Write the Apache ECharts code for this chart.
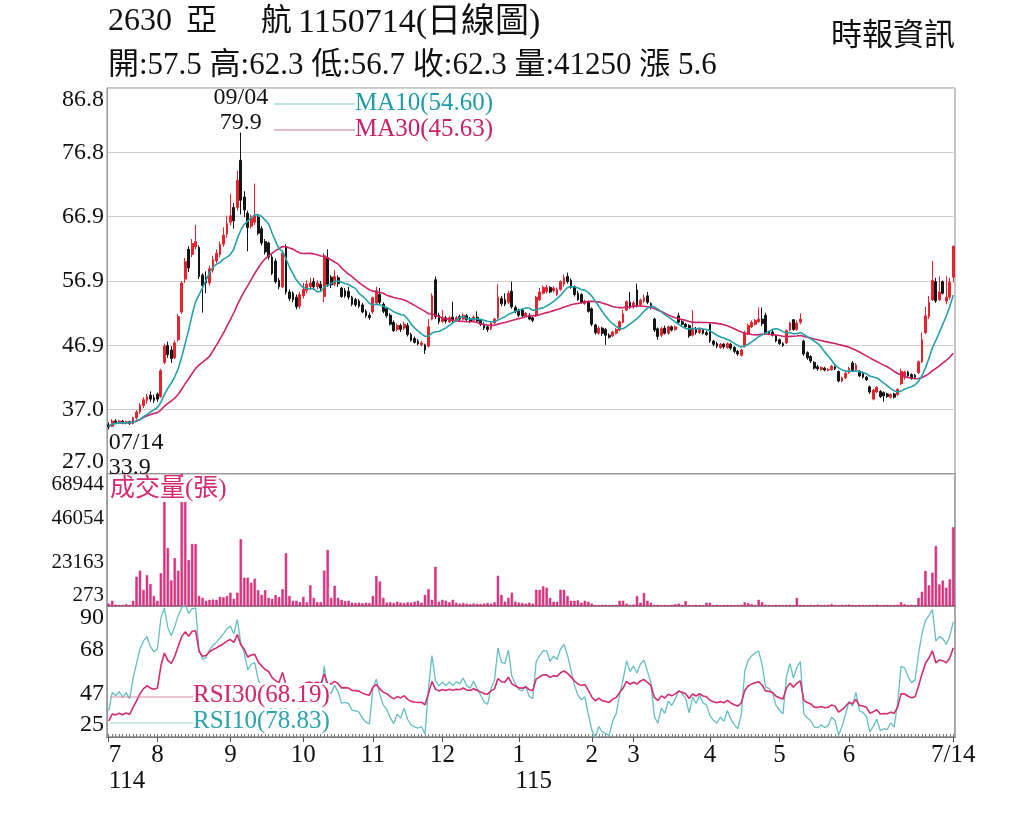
<!DOCTYPE html>
<html lang="zh-Hant">
<head>
<meta charset="UTF-8">
<title>2630 亞航 日線圖</title>
<script src="https://cdn.jsdelivr.net/npm/echarts@6/dist/echarts.min.js"></script>
<style>
  html, body { margin: 0; padding: 0; background: #fff; }
  #main { width: 1024px; height: 819px; }
</style>
</head>
<body>
<div id="main"></div>
<script>
// daily candles: [open, close, low, high], 114/07/14 .. 115/07/14
var kline = [
  [34.6,34.3,33.9,35.0],[34.4,35.2,34.3,35.5],[35.2,35.0,34.8,35.5],[35.0,35.2,34.8,35.4],[35.2,34.9,34.7,35.4],
  [34.9,35.1,34.7,35.3],[35.1,34.8,34.6,35.2],[34.8,35.7,34.7,35.9],[35.7,36.6,35.4,36.9],[36.6,37.7,36.3,38.0],
  [37.6,38.5,37.2,38.9],[38.4,39.0,37.9,39.4],[39.2,38.6,38.2,39.8],[38.8,38.4,38.0,39.3],[39.4,38.6,38.2,39.6],
  [39.0,43.0,38.8,43.3],[44.3,46.8,44.0,47.2],[46.9,45.5,45.0,47.5],[46.2,44.9,44.2,46.8],[45.0,47.3,44.8,47.7],
  [47.8,51.4,47.5,51.8],[52.1,56.6,51.8,56.9],[57.2,59.9,56.6,60.5],[61.8,58.9,58.3,62.3],[61.0,62.7,60.6,63.4],
  [62.2,63.0,61.8,65.6],[62.1,57.6,57.2,62.4],[57.8,56.2,52.0,58.1],[57.5,56.6,55.0,58.4],[56.6,58.8,56.2,59.3],
  [58.6,60.2,58.2,60.8],[60.0,61.2,59.6,61.8],[61.0,62.6,60.6,63.0],[62.6,64.0,62.2,65.2],[64.2,65.8,63.6,67.0],
  [66.0,67.0,65.5,70.4],[68.3,66.2,65.0,69.0],[68.3,72.5,67.8,74.0],[75.6,69.4,67.2,79.9],[69.9,67.9,66.8,70.8],
  [67.4,65.2,61.5,67.8],[65.4,66.6,65.0,67.2],[66.0,67.0,65.6,72.0],[66.8,64.3,64.0,67.2],[65.0,62.8,62.4,65.4],
  [63.0,61.4,61.0,63.4],[62.8,60.6,60.2,63.0],[60.6,58.1,57.8,61.0],[60.0,56.8,56.5,60.4],[57.0,56.0,55.6,57.4],
  [56.0,61.2,55.8,61.6],[62.2,55.2,54.8,62.6],[55.2,54.2,53.8,55.6],[55.0,54.0,53.6,55.3],[54.4,52.9,52.5,54.8],
  [53.0,54.8,52.6,55.2],[54.6,55.6,54.2,56.6],[55.4,56.4,55.0,57.0],[56.0,56.6,55.5,57.4],[56.8,56.0,55.5,57.4],
  [56.0,56.6,55.6,57.0],[56.4,55.8,55.4,56.9],[54.5,60.8,53.6,61.2],[60.5,56.4,56.0,61.8],[57.5,56.3,55.8,57.8],
  [56.4,57.6,56.1,58.6],[57.4,56.5,56.0,57.8],[55.8,54.5,54.3,56.0],[55.4,54.6,54.3,55.8],[55.3,54.4,54.0,56.0],
  [54.4,53.3,53.0,54.6],[54.0,53.2,52.9,54.3],[53.8,53.0,52.7,54.1],[53.2,52.1,51.9,53.5],[52.2,51.5,51.2,52.5],
  [51.6,51.2,50.9,52.0],[52.1,54.3,51.8,54.5],[53.5,55.4,53.3,56.0],[54.8,53.6,53.2,55.8],[53.3,52.2,51.9,53.6],
  [52.6,51.5,51.2,52.9],[51.6,50.2,50.0,51.9],[50.5,49.2,49.0,50.8],[49.4,50.0,49.1,50.3],[50.0,49.4,49.0,50.3],
  [49.6,50.2,49.3,50.6],[50.0,48.6,48.3,50.4],[48.6,47.7,47.5,48.9],[48.0,47.4,47.2,48.3],[47.6,47.2,46.9,47.9],
  [47.0,47.3,46.8,47.6],[47.0,46.2,45.6,47.2],[46.8,49.8,46.6,51.0],[51.0,54.6,50.8,55.0],[57.1,51.4,51.0,57.6],
  [51.6,50.6,50.2,52.0],[50.6,51.2,50.4,52.4],[51.2,50.7,50.3,51.5],[50.6,51.2,50.4,51.5],[51.3,50.8,50.4,53.7],
  [50.8,51.2,50.6,51.5],[51.4,51.0,50.7,51.7],[51.0,51.6,50.8,51.9],[51.5,50.9,50.6,51.8],[51.0,50.7,50.4,51.3],
  [50.8,51.3,50.6,51.6],[51.3,50.7,50.4,52.2],[50.8,50.2,49.9,51.0],[50.2,49.6,49.3,50.5],[49.8,49.4,49.0,50.0],
  [49.5,50.4,49.3,50.6],[50.4,51.0,50.2,51.2],[51.2,54.4,51.0,56.4],[54.2,53.4,53.0,54.6],[54.0,53.3,53.0,55.0],
  [53.6,55.0,53.3,55.4],[55.3,52.9,52.6,56.8],[52.8,52.2,51.9,53.1],[52.4,51.6,51.3,52.6],[52.4,51.5,51.2,52.7],
  [51.5,51.9,51.3,52.1],[51.6,51.0,50.8,51.9],[51.2,50.8,50.5,51.4],[51.6,54.4,51.3,54.6],[54.0,55.2,53.8,55.8],
  [55.0,55.9,54.8,56.2],[55.3,55.9,55.0,56.3],[55.9,55.2,55.0,56.1],[55.4,55.8,55.1,56.1],[54.8,55.6,54.6,55.9],
  [55.6,56.8,55.4,57.0],[56.4,57.4,56.0,57.9],[57.6,56.8,56.5,58.2],[57.0,55.9,55.7,57.3],[56.0,54.8,54.5,56.2],
  [55.0,54.0,53.8,55.4],[54.8,53.6,53.4,55.0],[53.4,53.8,53.2,54.0],[53.6,52.2,52.0,53.8],[52.6,50.2,49.9,52.8],
  [50.1,48.9,48.6,50.3],[48.8,49.6,48.6,49.9],[49.6,48.8,48.4,49.8],[49.4,48.5,47.0,49.6],[48.5,48.2,48.0,48.8],
  [48.4,49.0,48.2,49.2],[48.8,49.4,48.6,49.6],[49.3,50.6,49.1,50.8],[50.5,51.8,50.3,52.4],[52.4,53.7,52.2,53.9],
  [53.6,52.9,52.6,55.2],[52.9,53.5,52.6,53.8],[55.5,53.0,52.8,56.5],[53.2,53.9,52.9,54.2],[53.8,54.3,53.5,54.8],
  [54.6,53.6,53.3,55.2],[53.4,52.8,52.5,53.6],[51.0,49.3,49.0,51.2],[49.5,48.3,47.8,49.7],[48.5,49.5,48.2,49.8],
  [49.6,48.8,48.6,50.0],[48.8,49.8,48.6,50.0],[49.8,49.3,49.1,50.0],[49.4,49.8,49.2,50.0],[51.5,50.5,50.3,52.0],
  [50.6,50.2,49.9,50.9],[50.2,49.8,49.6,50.4],[50.0,48.4,48.1,50.2],[48.5,49.5,48.3,52.4],[49.5,48.9,48.6,49.8],
  [48.9,49.5,48.7,49.7],[49.4,48.8,48.6,49.6],[48.9,48.6,48.4,49.2],[50.2,47.6,47.3,50.5],[47.6,47.1,46.8,47.8],
  [47.2,46.8,46.5,47.5],[46.6,47.1,46.4,47.3],[47.1,46.7,46.4,47.3],[46.6,47.2,46.4,47.4],[47.1,46.5,46.2,47.3],
  [46.6,46.0,45.7,46.8],[46.0,45.6,45.3,46.2],[45.4,46.2,45.2,46.4],[46.8,48.9,46.6,49.2],[48.7,50.0,48.5,50.3],
  [49.8,50.5,49.6,50.8],[50.2,50.8,50.0,51.0],[50.6,51.0,50.4,52.8],[51.0,50.3,49.9,52.8],[51.6,48.9,48.7,52.0],
  [49.0,48.8,48.5,49.2],[49.0,48.5,48.3,49.3],[48.4,47.6,47.4,48.6],[47.8,47.2,47.0,48.0],[47.2,46.9,46.7,47.4],
  [47.3,49.2,47.1,49.4],[49.3,50.4,49.1,50.6],[50.9,49.4,49.2,51.0],[49.4,50.4,49.2,50.8],[50.5,51.0,50.2,51.9],
  [47.6,45.6,45.3,47.8],[45.8,45.0,44.7,46.0],[45.2,44.5,44.2,45.4],[44.3,43.4,43.2,44.5],[43.6,43.3,43.0,43.9],
  [43.2,43.5,43.0,43.7],[43.4,43.1,42.9,43.6],[43.1,43.2,42.9,43.4],[43.2,43.7,43.0,43.9],[43.6,43.3,43.1,43.8],
  [42.9,41.4,41.2,43.0],[41.4,41.9,41.2,42.1],[41.9,42.6,41.7,42.8],[42.7,43.4,42.5,43.6],[44.2,43.0,42.8,44.5],
  [43.1,43.9,42.9,44.2],[42.9,42.2,42.0,43.1],[42.6,42.0,41.8,42.8],[42.0,41.6,41.4,42.2],[40.5,39.7,39.4,40.7],
  [38.6,40.0,38.4,40.2],[39.7,40.4,39.5,40.6],[39.8,39.0,38.8,40.0],[39.6,39.1,38.2,39.8],[39.4,39.0,38.8,39.6],
  [38.9,39.3,38.7,39.5],[39.4,38.9,38.7,39.6],[39.3,40.1,39.1,40.3],[41.0,42.9,40.8,43.3],[42.0,42.8,41.6,43.0],
  [42.8,42.2,41.9,43.0],[42.4,41.8,41.6,42.6],[42.3,42.0,41.8,42.5],[42.7,44.4,42.5,44.6],[44.4,47.8,44.2,48.9],
  [48.9,51.5,48.7,52.9],[51.4,53.6,51.0,54.6],[54.0,57.0,53.8,60.0],[56.8,53.8,53.5,57.4],[54.0,55.2,53.8,57.6],
  [56.8,55.0,54.8,57.0],[53.8,54.4,53.3,57.6],[54.4,56.7,54.0,57.4],[57.5,62.3,56.7,62.3]
];

// daily volume (張)
var volume = [
  1500,3000,1000,800,900,1200,900,3000,15500,18600,
  8600,16300,11700,5500,3000,17300,58000,30400,13600,25200,
  18600,68944,62000,24200,32500,32500,5500,4500,3000,3500,
  3600,3500,5000,4800,5500,7200,4000,7200,35000,15000,
  15000,12400,14500,8500,6000,8500,4500,4000,6000,5000,
  9000,27700,5500,3000,3000,2300,5000,2300,11000,4500,
  2300,2300,18700,29400,4500,10800,4500,3500,2800,3000,
  2000,1800,2000,1700,2000,1800,5500,15900,13000,4500,
  2000,2200,1800,2500,2000,1800,2200,2000,2500,3000,
  2000,6000,9000,3500,20700,2500,3500,3000,2200,3500,
  2000,1500,1800,1500,1200,1600,1400,1300,1500,1800,
  1500,2200,16000,6000,2500,4500,7200,2500,2000,1800,
  1500,2000,1500,8700,8700,10500,9800,4500,2500,2500,
  8700,8700,5500,3000,3000,3200,2000,3000,2500,1500,
  800,700,800,900,700,800,900,3000,3000,1500,
  800,1000,5500,2000,7000,3000,2000,800,900,700,
  800,700,900,1200,1500,800,2800,800,700,900,
  800,700,2000,2000,800,900,700,800,900,800,
  700,800,900,2200,1800,1200,800,3500,2200,900,
  800,700,900,800,700,800,900,700,4500,900,
  800,700,900,800,1000,700,800,900,1200,800,
  700,900,800,1000,800,700,900,800,700,900,
  800,1000,700,800,900,700,800,900,2200,1200,
  800,900,700,4500,7700,18500,11000,17600,31500,11500,
  13500,9800,14200,41250
];

// RSI readings on the first day (carried over from before the window)
var rsiStart = { 10: 38, 30: 33 };

// month ticks on the date axis
var monthStart = [0, 14, 35, 56, 76, 96, 118, 139, 151, 173, 193, 213, 243];
var monthLabel = ['7', '8', '9', '10', '11', '12', '1', '2', '3', '4', '5', '6', '7/14'];
var yearLabel = { 0: '114', 118: '115' };

var days = kline.map(function (d, i) { return i; });

function calcMA(n) {
  return kline.map(function (d, i) {
    var s = 0, c = 0;
    for (var j = Math.max(0, i - n + 1); j <= i; j++) { s += kline[j][1]; c++; }
    return +(s / c).toFixed(2);
  });
}

// Wilder RSI, averages seeded from the first-day reading and the size of the first moves
function calcRSI(n) {
  var a = 0;
  for (var i = 1; i <= 10; i++) a += Math.abs(kline[i][1] - kline[i - 1][1]);
  a /= 10;
  var up = a * rsiStart[n] / 100, dn = a - up;
  var out = [rsiStart[n]];
  for (i = 1; i < kline.length; i++) {
    var d = kline[i][1] - kline[i - 1][1];
    up = (up * (n - 1) + Math.max(d, 0)) / n;
    dn = (dn * (n - 1) + Math.max(-d, 0)) / n;
    out.push(+(100 * up / (up + dn)).toFixed(2));
  }
  return out;
}

var ma10 = calcMA(10), ma30 = calcMA(30);
var rsi10 = calcRSI(10), rsi30 = calcRSI(30);

var SERIF = '"Liberation Serif", "Noto Sans CJK TC", serif';
var RED = '#e5232c', BLACK = '#151515';
var TEAL = '#22a1aa', MAG = '#cc2468';

function plainX(grid) {
  return {
    type: 'category', gridIndex: grid, data: days, boundaryGap: true,
    axisLine: { show: false }, axisTick: { show: false }, axisLabel: { show: false }
  };
}

function sideY(grid, min, max, step, fmt, split, size) {
  return {
    type: 'value', gridIndex: grid, min: min, max: max, interval: step,
    axisLine: { show: true, lineStyle: { color: '#9a9a9a' } },
    axisTick: { show: false },
    splitLine: { show: split, lineStyle: { color: '#cfcfcf' } },
    axisLabel: {
      color: '#111', fontFamily: SERIF, fontSize: size, margin: 3,
      formatter: fmt,
      verticalAlignMinLabel: 'bottom', verticalAlignMaxLabel: 'top'
    }
  };
}

var chart = echarts.init(document.getElementById('main'));
chart.setOption({
  animation: false,
  backgroundColor: '#fff',
  grid: [
    { left: 107, right: 69, top: 88, height: 386, show: true, borderColor: '#8c8c8c', borderWidth: 1 },
    { left: 107, right: 69, top: 474, height: 132, show: true, borderColor: '#8c8c8c', borderWidth: 1.5 },
    { left: 107, right: 69, top: 606, height: 131, show: true, borderColor: '#8c8c8c', borderWidth: 1.5 }
  ],
  xAxis: [
    plainX(0),
    plainX(1),
    {
      type: 'category', gridIndex: 2, data: days, boundaryGap: true,
      axisLine: { show: true, lineStyle: { color: '#777' } },
      axisTick: { show: true, inside: true, length: 3, interval: 0, alignWithLabel: true, lineStyle: { color: '#777' } },
      axisLabel: { show: false }
    },
    {
      type: 'category', gridIndex: 2, data: days, boundaryGap: true, position: 'bottom',
      axisLine: { show: false },
      axisTick: {
        show: true, length: 5, alignWithLabel: true, lineStyle: { color: '#555' },
        interval: function (i) { return monthStart.indexOf(i) >= 0; }
      },
      axisLabel: {
        show: true, margin: 5, color: '#111', fontFamily: SERIF, fontSize: 25, lineHeight: 26,
        alignMinLabel: 'left', showMaxLabel: true,
        interval: function (i) { return monthStart.indexOf(i) >= 0; },
        formatter: function (v) {
          var k = monthStart.indexOf(+v);
          if (k < 0) return '';
          var s = '{m|' + monthLabel[k] + '}';
          if (yearLabel[+v]) s += '\n{' + (+v === 0 ? 'y' : 'y2') + '|' + yearLabel[+v] + '}';
          return s;
        },
        rich: {
          m: { fontFamily: SERIF, fontSize: 25, color: '#111', lineHeight: 26 },
          y: { fontFamily: SERIF, fontSize: 25, color: '#111', lineHeight: 26 },
          y2: { fontFamily: SERIF, fontSize: 25, color: '#111', lineHeight: 26, padding: [0, 0, 0, 30] }
        }
      }
    }
  ],
  yAxis: [
    sideY(0, 27, 86.8, (86.8 - 27) / 6, function (v) { return v.toFixed(1); }, true, 24),
    sideY(1, 273, 68944, (68944 - 273) / 3, function (v) { return Math.round(v); }, false, 21),
    sideY(2, 25, 90, 65 / 3, function (v) { return Math.round(v); }, false, 24)
  ],
  series: [
    {
      name: 'K', type: 'candlestick', xAxisIndex: 0, yAxisIndex: 0, data: kline,
      barWidth: '66%',
      itemStyle: { color: RED, color0: BLACK, borderColor: RED, borderColor0: BLACK, borderWidth: 1 },
      markPoint: {
        symbol: 'rect', symbolSize: 0, silent: true,
        data: [
          {
            coord: [38, 79.9],
            label: {
              show: true, position: 'top', distance: 0, offset: [0, 3], formatter: '09/04\n79.9',
              color: '#111', fontFamily: SERIF, fontSize: 24, lineHeight: 25
            }
          },
          {
            coord: [0, 33.9],
            label: {
              show: true, position: [0, 0], align: 'left', verticalAlign: 'top', formatter: '07/14\n33.9',
              color: '#111', fontFamily: SERIF, fontSize: 24, lineHeight: 25, padding: [1, 0, 0, 0]
            }
          }
        ]
      }
    },
    {
      name: 'MA30', type: 'line', xAxisIndex: 0, yAxisIndex: 0, data: ma30,
      symbol: 'none', lineStyle: { color: MAG, width: 1.6 }
    },
    {
      name: 'MA10', type: 'line', xAxisIndex: 0, yAxisIndex: 0, data: ma10,
      symbol: 'none', lineStyle: { color: TEAL, width: 1.6 }
    },
    {
      name: 'VOL', type: 'bar', xAxisIndex: 1, yAxisIndex: 1, data: volume,
      barWidth: '68%', itemStyle: { color: '#e03583', borderColor: '#c81c6c', borderWidth: 0.5 }
    },
    {
      name: 'RSI10', type: 'line', xAxisIndex: 3, yAxisIndex: 2, data: rsi10,
      symbol: 'none', lineStyle: { color: '#64bec3', width: 1.3 }
    },
    {
      name: 'RSI30', type: 'line', xAxisIndex: 3, yAxisIndex: 2, data: rsi30,
      symbol: 'none', lineStyle: { color: '#d42b72', width: 1.6 }
    }
  ],
  graphic: [
    { type: 'text', left: 108, top: 6, z: 100, style: { text: '2630', font: '32px ' + SERIF, fill: '#111' } },
    { type: 'text', left: 186, top: 6, z: 100, style: { text: '亞', font: '31px ' + SERIF, fill: '#111' } },
    { type: 'text', left: 261, top: 6, z: 100, style: { text: '航', font: '31px ' + SERIF, fill: '#111' } },
    { type: 'text', left: 298, top: 6, z: 100, style: { text: '1150714(日線圖)', font: '34px ' + SERIF, fill: '#111' } },
    { type: 'text', left: 108, top: 50, z: 100, style: { text: '開:57.5 高:62.3 低:56.7 收:62.3 量:41250 漲 5.6', font: '31px ' + SERIF, fill: '#111' } },
    { type: 'text', right: 69, top: 21, z: 100, style: { text: '時報資訊', font: '31px ' + SERIF, fill: '#111' } },

    { type: 'line', z: 100, shape: { x1: 274, y1: 104, x2: 356, y2: 104 }, style: { stroke: '#7ccdd0', lineWidth: 1.2 } },
    { type: 'line', z: 100, shape: { x1: 274, y1: 130, x2: 356, y2: 130 }, style: { stroke: '#c77a96', lineWidth: 1.2 } },
    { type: 'text', left: 355, top: 91, z: 100, style: { text: 'MA10(54.60)', font: '25px ' + SERIF, fill: '#1f9ca6', backgroundColor: '#fff' } },
    { type: 'text', left: 355, top: 117, z: 100, style: { text: 'MA30(45.63)', font: '25px ' + SERIF, fill: '#c8206a', backgroundColor: '#fff' } },

    { type: 'text', left: 110, top: 477, z: 100, style: { text: '成交量(張)', font: '25px ' + SERIF, fill: '#d42a72', backgroundColor: '#fff' } },

    { type: 'line', z: 100, shape: { x1: 110, y1: 697, x2: 194, y2: 697 }, style: { stroke: '#d889a8', lineWidth: 1.2 } },
    { type: 'line', z: 100, shape: { x1: 110, y1: 723, x2: 194, y2: 723 }, style: { stroke: '#9ad4d6', lineWidth: 1.2 } },
    { type: 'text', left: 193, top: 683, z: 100, style: { text: 'RSI30(68.19)', font: '25px ' + SERIF, fill: '#d1246c', backgroundColor: '#fff' } },
    { type: 'text', left: 193, top: 709, z: 100, style: { text: 'RSI10(78.83)', font: '25px ' + SERIF, fill: '#2ba2ac', backgroundColor: '#fff' } }
  ]
});
</script>
</body>
</html>
